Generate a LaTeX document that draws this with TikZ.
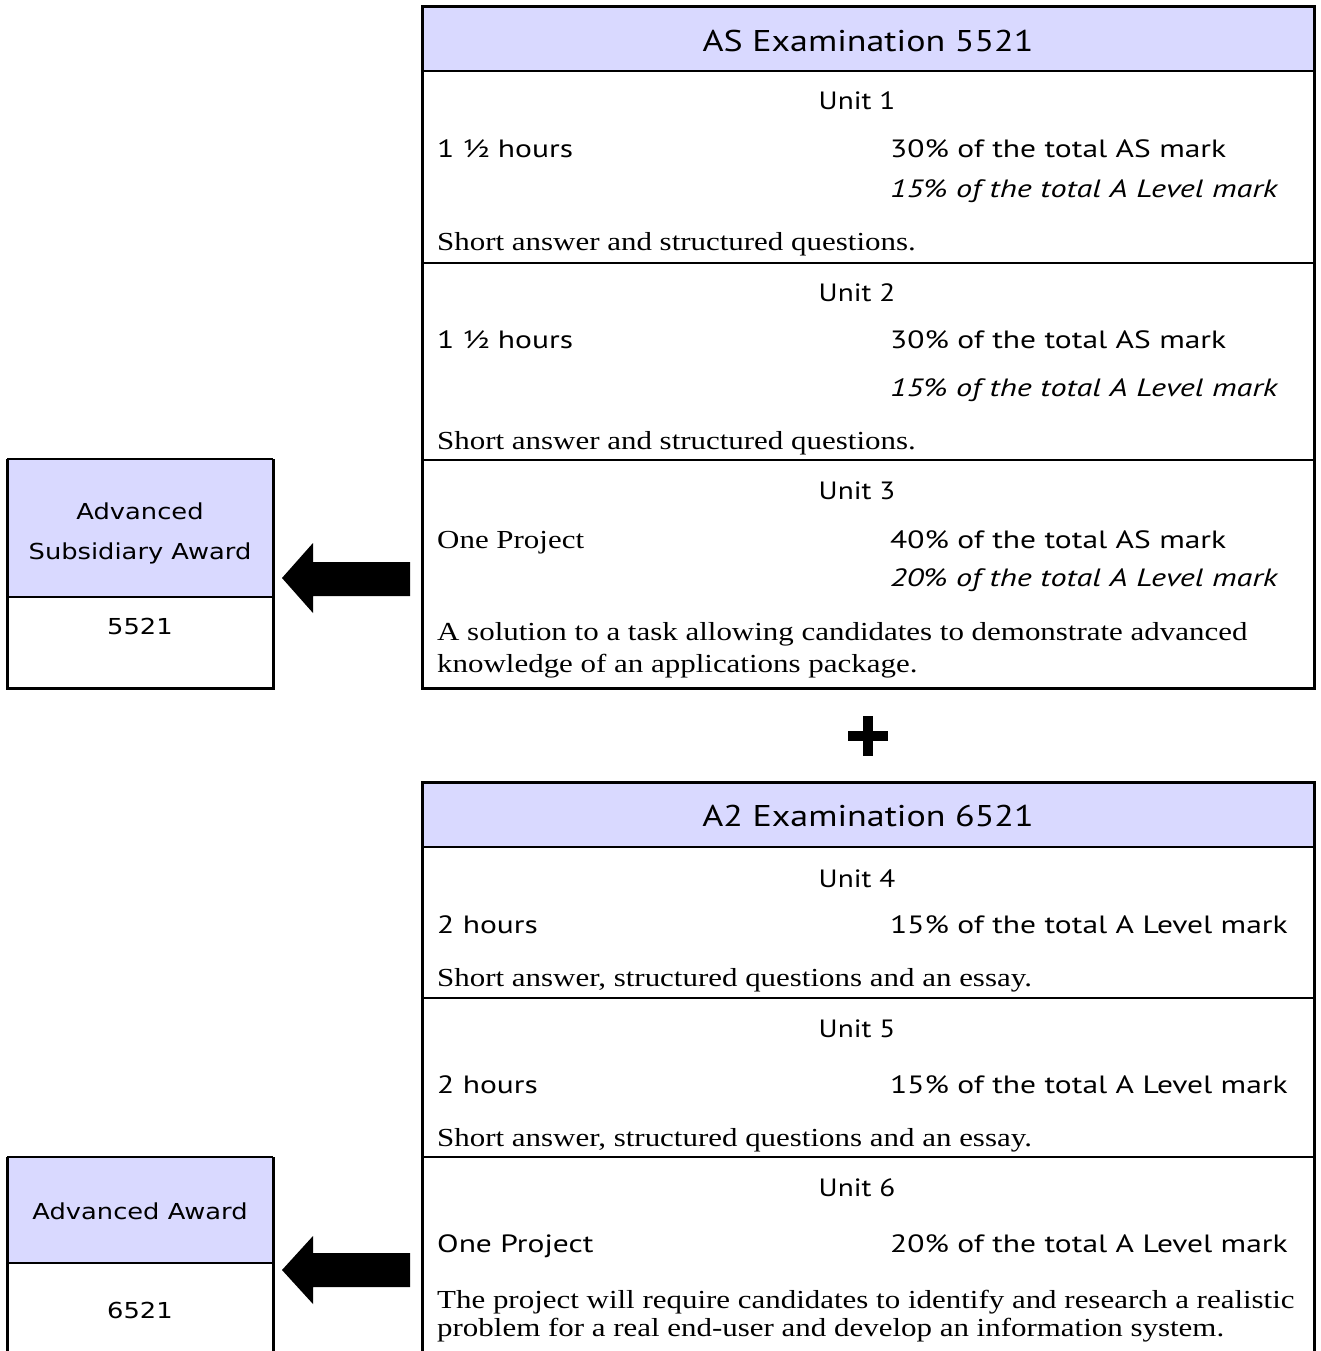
\documentclass[tikz,border=0pt]{standalone}
\usepackage{fontspec}
\setmainfont[FakeStretch=1.19]{Liberation Serif}
\newfontfamily\tabsans[FakeStretch=1.26]{PT Sans}
\newfontfamily\tabsansit[FakeStretch=1.29]{PT Sans}
\newfontfamily\hdsans[FakeStretch=1.2]{PT Sans}
\newfontfamily\unitsans[FakeStretch=1.17]{PT Sans}
\newfontfamily\awsans[FakeStretch=1.17]{DejaVu Sans}
\definecolor{lav}{RGB}{217,217,255}
\begin{document}
\begin{tikzpicture}[x=1pt,y=-1pt,
  frame/.style={draw=black,line width=3pt},
  rule/.style={draw=black,line width=2.5pt},
  thinrule/.style={draw=black,line width=1.5pt},
  hd/.style={font=\hdsans\fontsize{30}{34}\selectfont,inner sep=0,anchor=base},
  ut/.style={font=\unitsans\fontsize{25}{29}\selectfont,inner sep=0,anchor=base},
  lt/.style={font=\tabsans\fontsize{25}{29}\selectfont,inner sep=0,anchor=base west},
  it/.style={font=\tabsansit\itshape\fontsize{25}{29}\selectfont,inner sep=0,anchor=base west},
  sr/.style={font=\fontsize{26}{30}\selectfont,inner sep=0,anchor=base west},
  aw/.style={font=\awsans\fontsize{22}{26}\selectfont,inner sep=0,anchor=base},
  bigarrow/.style={fill=black,draw=none}]
\clip (0,0) rectangle (1321,1351);
\useasboundingbox (0,0) rectangle (1321,1351);
\fill[white] (0,0) rectangle (1321,1351);

% ---------- AS box ----------
\fill[lav] (422,7) rectangle (1314,71);
\draw[rule] (422,71) -- (1314,71);
\draw[rule] (422,263) -- (1314,263);
\draw[rule] (422,460) -- (1314,460);
\draw[frame] (422,7) rectangle (1314,688);

\node[hd] (ash) at (868,52) {AS Examination 5521};
\node[ut] (u1) at (857,110) {Unit 1};
\node[lt] (u1t) at (437,158) {1 ½ hours};
\node[lt] (u1a) at (890,158) {30\% of the total AS mark};
\node[it] (u1b) at (890,197) {15\% of the total A Level mark};
\node[sr] (u1d) at (437,250) {Short answer and structured questions.};

\node[ut] (u2) at (857,301) {Unit 2};
\node[lt] (u2t) at (437,348) {1 ½ hours};
\node[lt] (u2a) at (890,348) {30\% of the total AS mark};
\node[it] (u2b) at (890,396) {15\% of the total A Level mark};
\node[sr] (u2d) at (437,449) {Short answer and structured questions.};

\node[ut] (u3) at (857,499) {Unit 3};
\node[sr] (u3t) at (437,548) {One Project};
\node[lt] (u3a) at (890,548) {40\% of the total AS mark};
\node[it] (u3b) at (890,586) {20\% of the total A Level mark};
\node[sr] (u3d) at (437,640) {A solution to a task allowing candidates to demonstrate advanced};
\node[sr] (u3e) at (437,672) {knowledge of an applications package.};

% ---------- plus ----------
\fill[black] (848,731) rectangle (888,741);
\fill[black] (863,716) rectangle (873,756);

% ---------- A2 box ----------
\fill[lav] (422,782) rectangle (1314,847);
\draw[rule] (422,847) -- (1314,847);
\draw[rule] (422,998) -- (1314,998);
\draw[rule] (422,1157) -- (1314,1157);
\draw[frame] (422,782) rectangle (1314,1400);

\node[hd] (a2h) at (868,826) {A2 Examination 6521};
\node[ut] (u4) at (857,887) {Unit 4};
\node[lt] (u4t) at (437,933) {2 hours};
\node[lt] (u4a) at (890,933) {15\% of the total A Level mark};
\node[sr] (u4d) at (437,986) {Short answer, structured questions and an essay.};

\node[ut] (u5) at (857,1037) {Unit 5};
\node[lt] (u5t) at (437,1093) {2 hours};
\node[lt] (u5a) at (890,1093) {15\% of the total A Level mark};
\node[sr] (u5d) at (437,1146) {Short answer, structured questions and an essay.};

\node[ut] (u6) at (857,1196) {Unit 6};
\node[lt] (u6t) at (437,1252) {One Project};
\node[lt] (u6a) at (890,1252) {20\% of the total A Level mark};
\node[sr] (u6d) at (437,1308) {The project will require candidates to identify and research a realistic};
\node[sr] (u6e) at (437,1336) {problem for a real end-user and develop an information system.};

% ---------- AS award ----------
\fill[lav] (7,459) rectangle (273,597);
\draw[thinrule] (7,459) -- (273,459);
\draw[thinrule] (7,597) -- (275,597);
\draw[frame] (7,459) -- (7,688) -- (273,688) -- (273,459);
\node[aw] (asw1) at (140,519) {Advanced};
\node[aw] (asw2) at (140,559) {Subsidiary Award};
\node[aw] (asn) at (140,634) {5521};

% ---------- A award ----------
\fill[lav] (7,1157) rectangle (273,1263);
\draw[thinrule] (7,1157) -- (273,1157);
\draw[thinrule] (7,1263) -- (275,1263);
\draw[frame] (7,1157) -- (7,1400);
\draw[frame] (273,1157) -- (273,1400);
\node[aw] (aw1) at (140,1219) {Advanced Award};
\node[aw] (awn) at (140,1318) {6521};

% ---------- arrows ----------
\fill[bigarrow] (410,562) -- (313,562) -- (313,543) -- (282,578) -- (313,613) -- (313,596) -- (410,596) -- cycle;
\fill[bigarrow] (410,1253) -- (313,1253) -- (313,1236) -- (282,1270) -- (313,1304) -- (313,1287) -- (410,1287) -- cycle;
\end{tikzpicture}
\end{document}
